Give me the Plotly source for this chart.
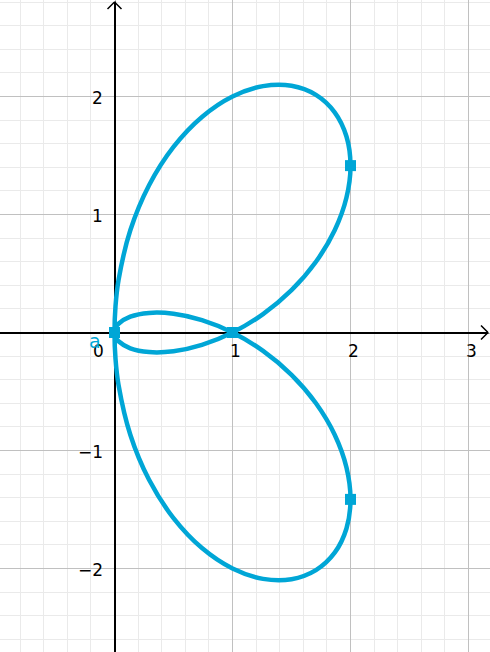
import plotly.graph_objects as go

# Curve points (x, y)
curve_x = [0, 0.0086, 0.0341, 0.1340, 0.2929, 0.5, 0.7412, 1.0, 1.2588, 1.5, 1.7071, 1.8660, 1.9659, 2.0,
           1.9659, 1.8660, 1.7071, 1.5, 1.2588, 1.0, 0.7412, 0.5, 0.2929, 0.1340, 0.0341, 0.0086, 0.0,
           0.0086, 0.0341, 0.1340, 0.2929, 0.5, 0.7412, 1.0, 1.2588, 1.5, 1.7071, 1.8660, 1.9659, 2.0,
           1.9659, 1.8660, 1.7071, 1.5, 1.2588, 1.0, 0.7412, 0.5, 0.2929, 0.1340, 0.0341, 0.0086, 0.0]
curve_y = [0, 0.2230, 0.4434, 0.8660, 1.2483, 1.5731, 1.8268, 2.0, 2.0879, 2.0908, 2.0137, 1.8660, 1.6609, 1.4142,
           1.1433, 0.8660, 0.5995, 0.3587, 0.1560, 0.0, -0.1050, -0.1589, -0.1659, -0.1340, -0.0742, -0.0380, 0.0,
           0.0380, 0.0742, 0.1340, 0.1659, 0.1589, 0.1050, 0.0, -0.1560, -0.3587, -0.5995, -0.8660, -1.1433, -1.4142,
           -1.6609, -1.8660, -2.0137, -2.0908, -2.0879, -2.0, -1.8268, -1.5731, -1.2483, -0.8660, -0.4434, -0.2230, 0.0]

# Marked points
pts_x = [0, 1, 2, 2]
pts_y = [0, 0, 1.4142, -1.4142]

# Tick labels
xtick_vals = [0, 1, 2, 3]
xtick_text = ["0", "1", "2", "3"]
ytick_vals = [2, 1, -1, -2]
ytick_text = ["2", "1", "\u22121", "\u22122"]

BLUE = "rgb(0,166,214)"
W, H = 490, 652
PX = 118.0
X0PX, Y0PX = 114.5, 332.5
xr = [-X0PX / PX, (W - X0PX) / PX]
yr = [-(H - Y0PX) / PX, Y0PX / PX]
u = 1 / PX  # one pixel in data units

fig = go.Figure()
fig.add_trace(go.Scatter(x=curve_x, y=curve_y, mode="lines",
                         line=dict(color=BLUE, width=4.5, shape="spline", smoothing=1.0),
                         hoverinfo="skip", showlegend=False))
fig.add_trace(go.Scatter(x=pts_x, y=pts_y, mode="markers",
                         marker=dict(symbol="square", size=11, color=BLUE),
                         showlegend=False))

# open arrowheads at the axis ends
xtip = (W - 2 - X0PX) / PX
ytip = (Y0PX - 2) / PX
shapes = [
    dict(type="path", xref="x", yref="y",
         path=f"M {xtip-7*u},{7*u} L {xtip},0 L {xtip-7*u},{-7*u}",
         line=dict(color="black", width=1.5)),
    dict(type="path", xref="x", yref="y",
         path=f"M {-7*u},{ytip-7*u} L 0,{ytip} L {7*u},{ytip-7*u}",
         line=dict(color="black", width=1.5)),
    # white patches hide the zero-line beyond the arrow tips
    dict(type="rect", xref="x", yref="y", x0=xtip + 0.5 * u, x1=xr[1], y0=-1.2 * u, y1=1.2 * u,
         line=dict(width=0), fillcolor="white"),
    dict(type="rect", xref="x", yref="y", x0=-1.2 * u, x1=1.2 * u, y0=ytip + 0.5 * u, y1=yr[1],
         line=dict(width=0), fillcolor="white"),
]

ann = []
for v, t in zip(xtick_vals, xtick_text):
    xoff = -16 if v == 0 else 3
    ann.append(dict(x=v, y=0, xref="x", yref="y", text=t, showarrow=False,
                    xshift=xoff, yshift=-18, font=dict(family="DejaVu Sans", size=17, color="black")))
for v, t in zip(ytick_vals, ytick_text):
    ann.append(dict(x=0, y=v, xref="x", yref="y", text=t, showarrow=False,
                    xanchor="right", xshift=-10, yshift=-1,
                    font=dict(family="DejaVu Sans", size=17, color="black")))
ann.append(dict(x=0, y=0, xref="x", yref="y", text="a", showarrow=False,
                xshift=-20, yshift=-8, font=dict(family="DejaVu Sans", size=19, color=BLUE)))

axis_common = dict(dtick=1, tick0=0, showgrid=True, gridcolor="#c0c0c0", gridwidth=1,
                   minor=dict(dtick=0.2, tick0=0, showgrid=True, gridcolor="#eaeaea", gridwidth=1),
                   showticklabels=False, zeroline=True, zerolinecolor="black", zerolinewidth=1.5,
                   showline=False, fixedrange=True)
fig.update_layout(
    width=W, height=H, margin=dict(l=0, r=0, t=0, b=0),
    plot_bgcolor="white", paper_bgcolor="white",
    shapes=shapes, annotations=ann, showlegend=False,
    xaxis=dict(range=xr, **axis_common),
    yaxis=dict(range=yr, **axis_common),
)
fig.write_html("out.html", config={"displayModeBar": False},
               post_script="document.body.style.margin='0px';document.body.style.overflow='hidden';")
